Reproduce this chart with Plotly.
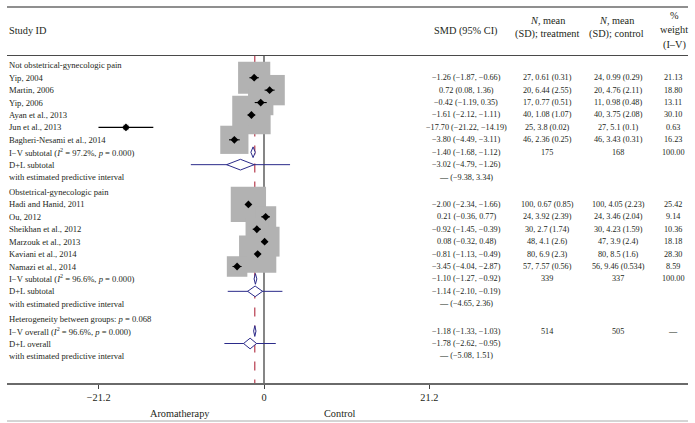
import math
import plotly.graph_objects as go

# ---------------- data ----------------
group_names = ["Not obstetrical-gynecologic pain", "Obstetrical-gynecologic pain"]

g1_study = ["Yip, 2004", "Martin, 2006", "Yip, 2006", "Ayan et al., 2013",
            "Jun et al., 2013", "Bagheri-Nesami et al., 2014"]
g1_smd = [-1.26, 0.72, -0.42, -1.61, -17.70, -3.80]
g1_lo = [-1.87, 0.08, -1.19, -2.12, -21.22, -4.49]
g1_hi = [-0.66, 1.36, 0.35, -1.11, -14.19, -3.11]
g1_treat = ["27, 0.61 (0.31)", "20, 6.44 (2.55)", "17, 0.77 (0.51)",
            "40, 1.08 (1.07)", "25, 3.8 (0.02)", "46, 2.36 (0.25)"]
g1_ctrl = ["24, 0.99 (0.29)", "20, 4.76 (2.11)", "11, 0.98 (0.48)",
           "40, 3.75 (2.08)", "27, 5.1 (0.1)", "46, 3.43 (0.31)"]
g1_w = [21.13, 18.80, 13.11, 30.10, 0.63, 16.23]
g1_iv = [-1.40, -1.68, -1.12]
g1_i2 = "97.2%"
g1_p = "0.000"
g1_n = [175, 168]
g1_dl = [-3.02, -4.79, -1.26]
g1_pi = [-9.38, 3.34]

g2_study = ["Hadi and Hanid, 2011", "Ou, 2012", "Sheikhan et al., 2012",
            "Marzouk et al., 2013", "Kaviani et al., 2014", "Namazi et al., 2014"]
g2_smd = [-2.00, 0.21, -0.92, 0.08, -0.81, -3.45]
g2_lo = [-2.34, -0.36, -1.45, -0.32, -1.13, -4.04]
g2_hi = [-1.66, 0.77, -0.39, 0.48, -0.49, -2.87]
g2_treat = ["100, 0.67 (0.85)", "24, 3.92 (2.39)", "30, 2.7 (1.74)",
            "48, 4.1 (2.6)", "80, 6.9 (2.3)", "57, 7.57 (0.56)"]
g2_ctrl = ["100, 4.05 (2.23)", "24, 3.46 (2.04)", "30, 4.23 (1.59)",
           "47, 3.9 (2.4)", "80, 8.5 (1.6)", "56, 9.46 (0.534)"]
g2_w = [25.42, 9.14, 10.36, 18.18, 28.30, 8.59]
g2_iv = [-1.10, -1.27, -0.92]
g2_i2 = "96.6%"
g2_p = "0.000"
g2_n = [339, 337]
g2_dl = [-1.14, -2.10, -0.19]
g2_pi = [-4.65, 2.36]

het_p = "0.068"
ov_iv = [-1.18, -1.33, -1.03]
ov_i2 = "96.6%"
ov_p = "0.000"
ov_n = [514, 505]
ov_dl = [-1.78, -2.62, -0.95]
ov_pi = [-5.08, 1.51]

x_ticks = [-21.2, 0, 21.2]
x_ticktext = ["\u221221.2", "0", "21.2"]
left_label = "Aromatherapy"
right_label = "Control"

# ---------------- layout constants ----------------
W, H = 695, 423
X0_PX, PX_PER_UNIT = 264.0, 7.8
ROW0_PX, ROW_PX = 65.3, 12.42
AXIS_PX = 383.0
LEFT_PX, RIGHT_PX = 7.0, 688.0
HEADLINE_PX = 55.5

FONT = "Liberation Serif"
TXT = "#231f20"
GREY = "#b2b2b2"
NAVY = "#2b2b8a"
RED = "#b0283c"
LABELFS = 8.6
ROWFS = 8.2
HEADFS = 10.3

def fmt(v):
    return f"{v:.2f}".replace("-", "\u2212")

def ci_txt(e, l, h):
    return f"{fmt(e)} ({fmt(l)}, {fmt(h)})"

def px(xp):
    return xp / W

def py(yp):
    return 1 - yp / H

# ---------------- build rows ----------------
r = 0.0
groups = [
    (group_names[0], g1_study, g1_smd, g1_lo, g1_hi, g1_treat, g1_ctrl, g1_w,
     g1_iv, g1_i2, g1_p, g1_n, g1_dl, g1_pi),
    (group_names[1], g2_study, g2_smd, g2_lo, g2_hi, g2_treat, g2_ctrl, g2_w,
     g2_iv, g2_i2, g2_p, g2_n, g2_dl, g2_pi),
]
studies_x, studies_y, studies_w, ci_lo, ci_hi = [], [], [], [], []
diamonds = []   # (est, lo, hi, y)
pis = []        # (lo, hi, y)
annots = []

def add_row_text(y, label, smd="", tr="", ct="", wt=""):
    annots.append(dict(x=px(LEFT_PX), y=y, xref="paper", yref="y", text=label,
                       xanchor="left", yanchor="middle", showarrow=False,
                       font=dict(family=FONT, size=LABELFS, color=TXT)))
    for xx, t in ((466, smd), (547, tr), (618, ct), (673, wt)):
        if t:
            annots.append(dict(x=px(xx), y=y, xref="paper", yref="y", text=t,
                               xanchor="center", yanchor="middle", showarrow=False,
                               font=dict(family=FONT, size=ROWFS, color=TXT)))

for (gname, st, e, lo, hi, tr, ct, w, iv, i2, p, n, dl, pi) in groups:
    add_row_text(r, gname)
    r += 1
    for k in range(len(st)):
        studies_x.append(e[k]); studies_y.append(r); studies_w.append(w[k])
        ci_lo.append(lo[k]); ci_hi.append(hi[k])
        add_row_text(r, st[k], ci_txt(e[k], lo[k], hi[k]), tr[k], ct[k], f"{w[k]:.2f}")
        r += 1
    add_row_text(r, f"I\u2212V subtotal (<i>I</i><sup>2</sup> = {i2}, <i>p</i> = {p})",
                 ci_txt(*iv), str(n[0]), str(n[1]), "100.00")
    diamonds.append((iv[0], iv[1], iv[2], r))
    r += 1
    add_row_text(r, "D+L subtotal", ci_txt(*dl))
    diamonds.append((dl[0], dl[1], dl[2], r))
    pis.append((pi[0], pi[1], r))
    r += 1
    add_row_text(r, "with estimated predictive interval", f"\u2014 ({fmt(pi[0])}, {fmt(pi[1])})")
    r += 1.2

add_row_text(r, f"Heterogeneity between groups: <i>p</i> = {het_p}")
r += 1
add_row_text(r, f"I\u2212V overall (<i>I</i><sup>2</sup> = {ov_i2}, <i>p</i> = {ov_p})",
             ci_txt(*ov_iv), str(ov_n[0]), str(ov_n[1]), "\u2014")
diamonds.append((ov_iv[0], ov_iv[1], ov_iv[2], r))
r += 1
add_row_text(r, "D+L overall", ci_txt(*ov_dl))
diamonds.append((ov_dl[0], ov_dl[1], ov_dl[2], r))
pis.append((ov_pi[0], ov_pi[1], r))
r += 1
add_row_text(r, "with estimated predictive interval", f"\u2014 ({fmt(ov_pi[0])}, {fmt(ov_pi[1])})")

# ---------------- traces ----------------
fig = go.Figure()

fig.add_trace(go.Scatter(
    x=studies_x, y=studies_y, mode="markers", hoverinfo="skip",
    marker=dict(symbol="square", size=[7.0 * math.sqrt(w) for w in studies_w],
                color=GREY, opacity=1, line=dict(width=0))))

cx, cy = [], []
for lo, hi, y in zip(ci_lo, ci_hi, studies_y):
    cx += [lo, hi, None]; cy += [y, y, None]
fig.add_trace(go.Scatter(x=cx, y=cy, mode="lines", hoverinfo="skip",
                         line=dict(color="black", width=1.1)))

fig.add_trace(go.Scatter(x=studies_x, y=studies_y, mode="markers", hoverinfo="skip",
                         marker=dict(symbol="diamond", size=6, color="black")))

px_, py_ = [], []
for lo, hi, y in pis:
    px_ += [lo, hi, None]; py_ += [y, y, None]
fig.add_trace(go.Scatter(x=px_, y=py_, mode="lines", hoverinfo="skip",
                         line=dict(color=NAVY, width=1)))

HALF = 0.43
for e, lo, hi, y in diamonds:
    fig.add_trace(go.Scatter(
        x=[lo, e, hi, e, lo], y=[y, y - HALF, y, y + HALF, y],
        mode="lines", fill="toself", fillcolor="white", hoverinfo="skip",
        line=dict(color=NAVY, width=1)))

# ---------------- shapes ----------------
y_top_row = (HEADLINE_PX - ROW0_PX) / ROW_PX
y_axis_row = (AXIS_PX - ROW0_PX) / ROW_PX
y_range_top = (0 - ROW0_PX) / ROW_PX

shapes = [
    dict(type="line", xref="paper", yref="paper", x0=px(LEFT_PX), x1=px(RIGHT_PX),
         y0=py(7), y1=py(7), line=dict(color="#6a6a6a", width=1.6)),
    dict(type="line", xref="paper", yref="paper", x0=px(LEFT_PX), x1=px(RIGHT_PX),
         y0=py(HEADLINE_PX), y1=py(HEADLINE_PX), line=dict(color="#4a4a4a", width=1.2)),
    dict(type="line", xref="paper", yref="paper", x0=px(LEFT_PX), x1=px(RIGHT_PX),
         y0=py(421), y1=py(421), line=dict(color="#aaaaaa", width=1)),
    dict(type="line", xref="x", yref="y", x0=0, x1=0, y0=y_top_row, y1=y_axis_row,
         line=dict(color="#222222", width=1.1), layer="below"),
    dict(type="line", xref="x", yref="y", x0=ov_iv[0], x1=ov_iv[0], y0=y_top_row,
         y1=y_axis_row, line=dict(color=RED, width=1.1, dash="dash"), layer="below"),
]

# ---------------- header annotations ----------------
def head(xp, yp, text, anchor="center"):
    annots.append(dict(x=px(xp), y=py(yp), xref="paper", yref="paper", text=text,
                       xanchor=anchor, yanchor="middle", showarrow=False,
                       font=dict(family=FONT, size=HEADFS, color=TXT)))

head(LEFT_PX, 31, "Study ID", "left")
head(466, 31, "SMD (95% CI)")
head(547, 21, "<i>N</i>, mean")
head(547, 34, "(SD); treatment")
head(616, 21, "<i>N</i>, mean")
head(616, 34, "(SD); control")
head(674, 15, "%")
head(674, 30, "weight")
head(674, 45, "(I\u2013V)")
head(180, 413, left_label)
head(340, 413, right_label)

fig.update_layout(
    width=W, height=H, margin=dict(l=0, r=0, t=0, b=0),
    paper_bgcolor="white", plot_bgcolor="white", showlegend=False,
    shapes=shapes, annotations=annots,
    xaxis=dict(domain=[px(LEFT_PX), px(RIGHT_PX)],
               range=[(LEFT_PX - X0_PX) / PX_PER_UNIT, (RIGHT_PX - X0_PX) / PX_PER_UNIT],
               tickvals=x_ticks, ticktext=x_ticktext, ticks="outside", ticklen=4,
               tickcolor="#444444", tickwidth=1, showline=True, linecolor="#6a6a6a",
               linewidth=1.6, showgrid=False, zeroline=False,
               tickfont=dict(family=FONT, size=HEADFS, color=TXT)),
    yaxis=dict(domain=[(H - AXIS_PX) / H, 1], range=[y_axis_row, y_range_top],
               visible=False, showgrid=False, zeroline=False),
)

fig.write_html("out.html", config={"displayModeBar": False},
               post_script="document.body.style.margin='0';")
